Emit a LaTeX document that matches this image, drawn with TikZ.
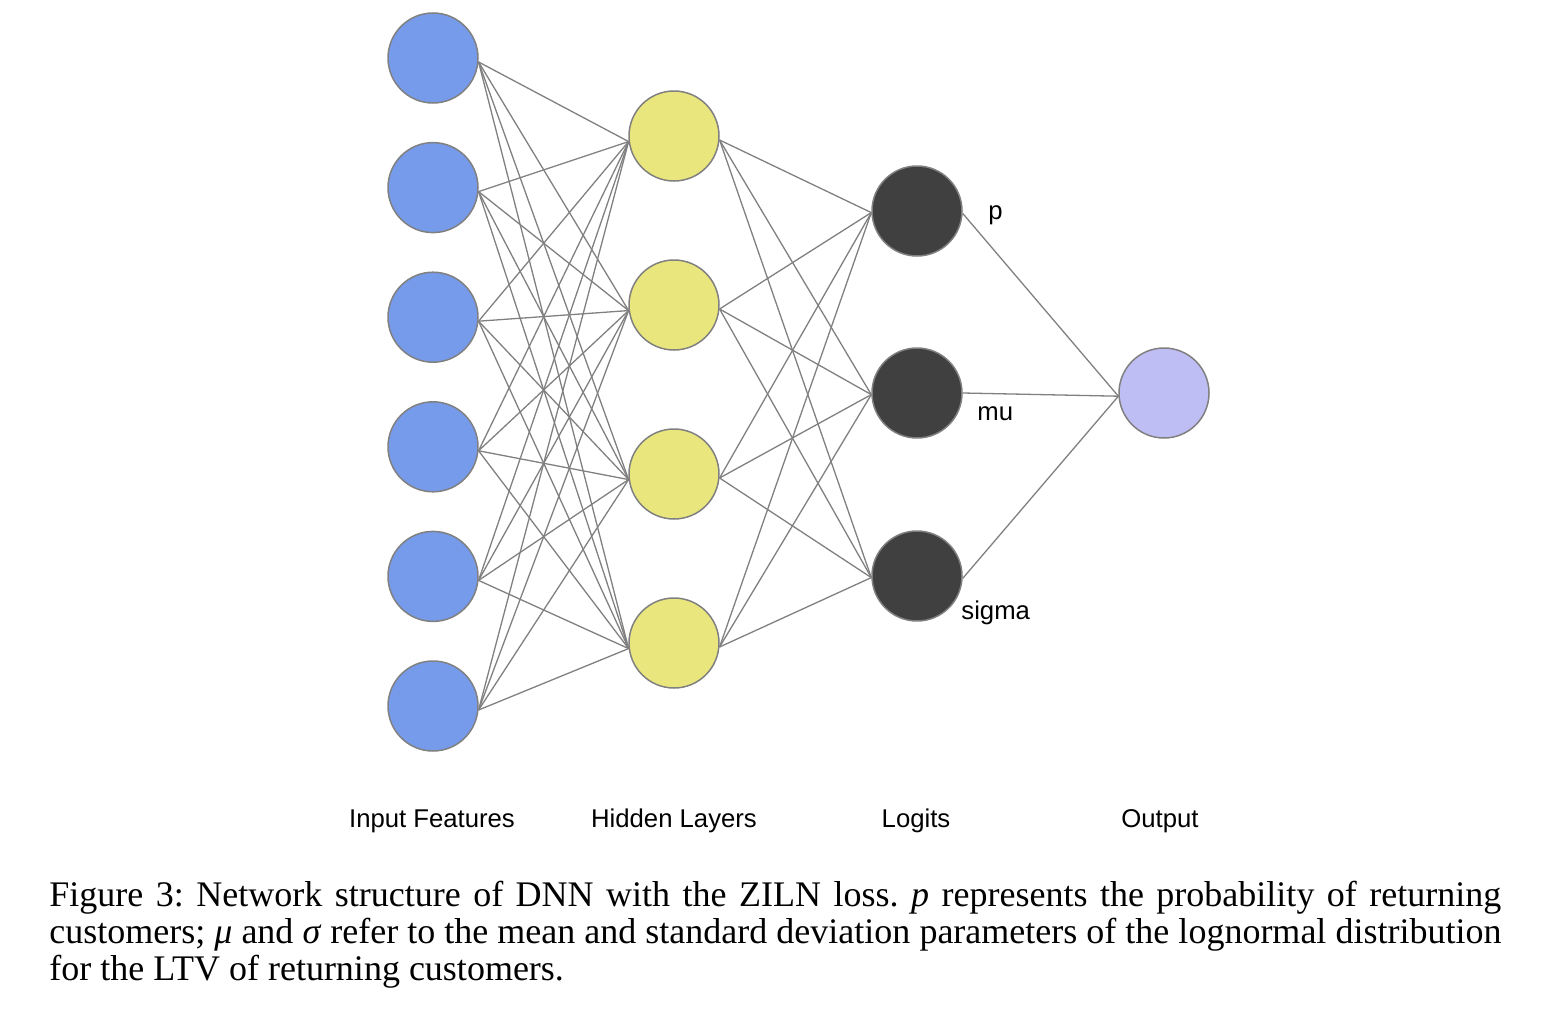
\documentclass[tikz,border=0pt]{standalone}
\usepackage{fontspec}
\setmainfont{Liberation Serif}
\newfontfamily\labelfont{Liberation Sans}
\frenchspacing
\definecolor{inblue}{RGB}{118,155,235}
\definecolor{hidyellow}{RGB}{233,230,125}
\definecolor{logitdark}{RGB}{64,64,64}
\definecolor{outlav}{RGB}{190,190,245}
\definecolor{edgegray}{RGB}{128,128,128}
\tikzset{
  neuron/.style={circle, draw=edgegray, line width=0.75pt, minimum size=45pt, inner sep=0pt},
  inneuron/.style={neuron, fill=inblue},
  hidneuron/.style={neuron, fill=hidyellow},
  logneuron/.style={neuron, fill=logitdark},
  outneuron/.style={neuron, fill=outlav},
  conn/.style={draw=edgegray, line width=0.65pt},
  layerlabel/.style={font=\labelfont\fontsize{12.85}{15}\selectfont, anchor=base, inner sep=0pt},
  outlabel/.style={font=\labelfont\fontsize{12.85}{15}\selectfont, anchor=base west, inner sep=0pt},
  capline/.style={font=\fontsize{18}{18}\selectfont, anchor=base west, inner sep=0pt}
}
\begin{document}
\begin{tikzpicture}[x=0.5pt,y=-0.5pt]
\useasboundingbox (0,0) rectangle (1552,1012);
% nodes
\foreach \i [evaluate=\i as \yy using 58+129.6*(\i-1)] in {1,...,6}
  \node[inneuron] (in\i) at (433,\yy) {};
\foreach \j/\yy in {1/136,2/305,3/474,4/643}
  \node[hidneuron] (hid\j) at (674,\yy) {};
\node[logneuron] (lg1) at (917,211) {};
\node[logneuron] (lg2) at (917,393) {};
\node[logneuron] (lg3) at (917,576) {};
\node[outneuron] (out) at (1164,393) {};
% edges
\foreach \i in {1,...,6}
  \foreach \j in {1,...,4}
    \draw[conn] (in\i.355) -- (hid\j.187);
\foreach \j in {1,...,4}
  \foreach \k in {1,2,3}
    \draw[conn] (hid\j.355) -- (lg\k.182);
\draw[conn] (lg1.357) -- (out.184);
\draw[conn] (lg2.east) -- (out.184);
\draw[conn] (lg3.357) -- (out.184);
% output labels
\node[outlabel] (lp) at (988,219) {p};
\node[outlabel] (lmu) at (977,420) {mu};
\node[outlabel] (lsig) at (961,619) {sigma};
% layer labels
\node[layerlabel] (l1) at (432,827) {Input Features};
\node[layerlabel] (l2) at (674,827) {Hidden Layers};
\node[layerlabel] (l3) at (916,827) {Logits};
\node[layerlabel] (l4) at (1160,827) {Output};
% caption
\node[capline] (c1) at (49,906) {\makebox[726pt][s]{Figure 3: Network structure of DNN with the ZILN loss. \textit{p} represents the probability of returning}};
\node[capline] (c2) at (49,943) {\makebox[726pt][s]{customers; \textit{μ} and \textit{σ} refer to the mean and standard deviation parameters of the lognormal distribution}};
\node[capline] (c3) at (49,980) {for the LTV of returning customers.};
\end{tikzpicture}
\end{document}
